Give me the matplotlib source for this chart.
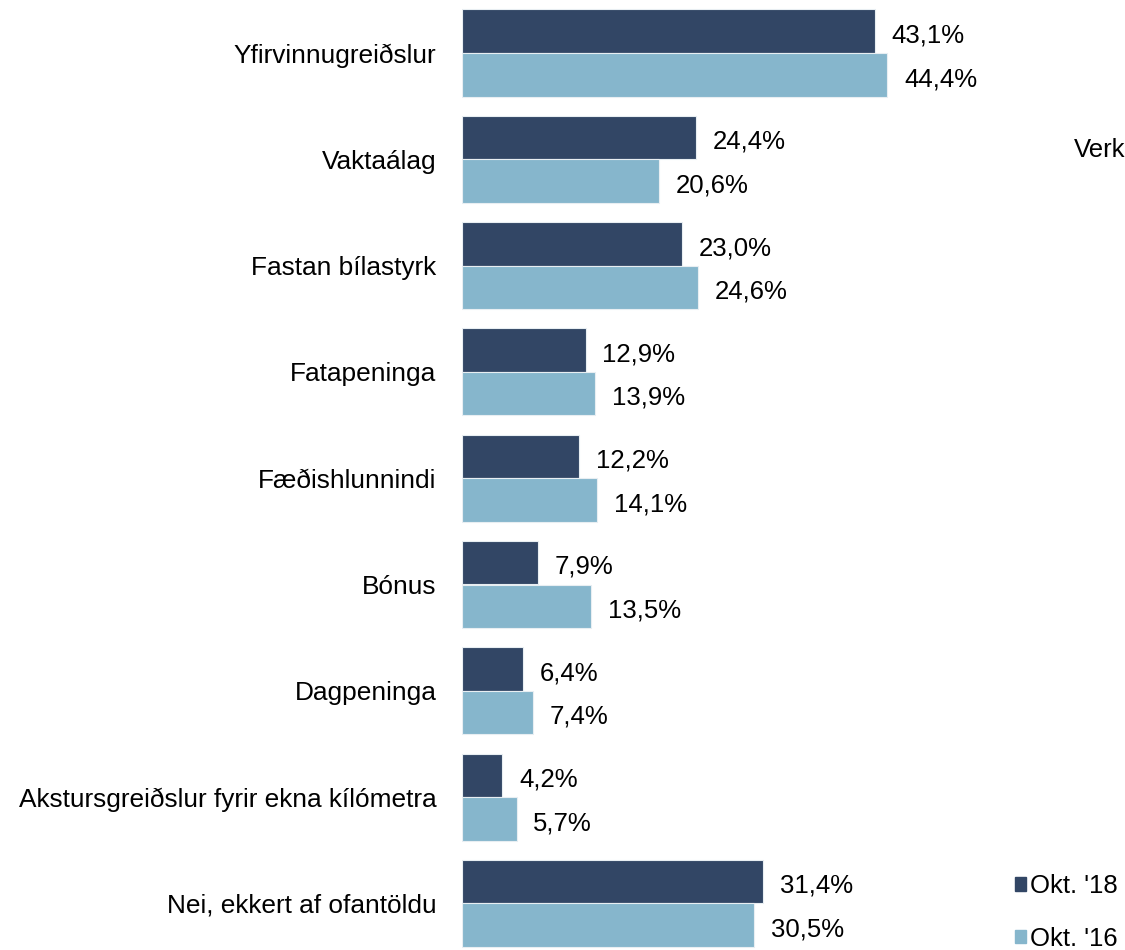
import matplotlib.pyplot as plt
from matplotlib.patches import Patch
import numpy as np

plt.rcParams['font.family'] = ['Liberation Sans', 'DejaVu Sans']

categories = ["Yfirvinnugreiðslur", "Vaktaálag", "Fastan bílastyrk", "Fatapeninga",
              "Fæðishlunnindi", "Bónus", "Dagpeninga",
              "Akstursgreiðslur fyrir ekna kílómetra", "Nei, ekkert af ofantöldu"]
okt18 = [43.1, 24.4, 23.0, 12.9, 12.2, 7.9, 6.4, 4.2, 31.4]
okt16 = [44.4, 20.6, 24.6, 13.9, 14.1, 13.5, 7.4, 5.7, 30.5]
series = ["Okt. '18", "Okt. '16"]
colors = ["#324665", "#86b6cc"]

W, H = 1125, 950
fs = 18.5
fig = plt.figure(figsize=(W / 100, H / 100), dpi=100)
ax = fig.add_axes([462 / W, 0, 1 - 462 / W, 1])

y = np.arange(len(categories))
h = 0.41
ax.barh(y - h / 2, okt18, height=h, color=colors[0], edgecolor="#e8eef2", linewidth=0.8)
ax.barh(y + h / 2, okt16, height=h, color=colors[1], edgecolor="#e8eef2", linewidth=0.8)

for i in range(len(categories)):
    ax.text(okt18[i] + 1.75, y[i] - h / 2 + 0.04, f"{okt18[i]:.1f}%".replace(".", ","),
            va="center", ha="left", fontsize=fs)
    ax.text(okt16[i] + 1.75, y[i] + h / 2 + 0.04, f"{okt16[i]:.1f}%".replace(".", ","),
            va="center", ha="left", fontsize=fs)

ax.set_xlim(0, (W - 462) / 9.58)
ax.set_ylim((H - 53) / 106.3, -53 / 106.3)
ax.set_yticks(y)
ax.set_yticklabels(categories, fontsize=18.9)
ax.tick_params(axis="y", length=0, pad=18.5)
ax.set_xticks([])
for s in ["top", "right", "bottom", "left"]:
    ax.spines[s].set_visible(False)

fig.text(1074 / W, 1 - 150 / H, "Verk", va="center", ha="left", fontsize=fs)

handles = [Patch(color=c) for c in colors]
fig.legend(handles, series, loc="upper left", bbox_to_anchor=(1005 / W, 1 - 864 / H),
           frameon=False, fontsize=fs, handlelength=0.42, handleheight=0.42,
           handletextpad=0.15, labelspacing=1.1, borderaxespad=0)

fig.savefig("out.png", dpi=100)
